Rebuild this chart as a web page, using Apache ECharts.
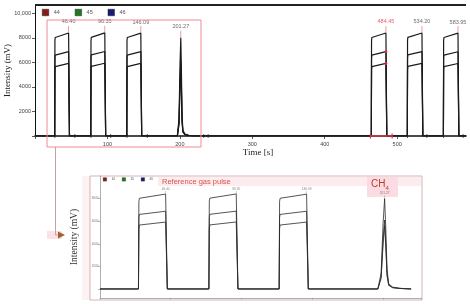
<!DOCTYPE html>
<html><head><meta charset="utf-8">
<script src="https://cdn.jsdelivr.net/npm/echarts@6/dist/echarts.min.js"></script>
<style>html,body{margin:0;padding:0;background:#fff}#c{width:470px;height:304px}</style>
</head><body><div id="c"></div>
<script>
// ---- data ----
const massNames = ['44', '45', '46'];
const legendColors = ['#8b1a1a', '#1f7a1f', '#1a1a7a'];
const pulseRise = [27.5, 77.3, 127.0, 464.6, 514.3, 564.1];
const pulseEnd = [46.40, 96.35, 146.09, 484.45, 534.20, 583.95];
const pulseLabels = ['46.40', '96.35', '146.09', '484.45', '534.20', '583.95'];
const level44Start = [8150, 8160, 8150, 8150, 8160, 8150];
const level44End = [8400, 8410, 8390, 8400, 8400, 8390];
const level45Start = [6720, 6730, 6720, 6720, 6730, 6720];
const level45End = [6880, 6890, 6880, 6880, 6880, 6870];
const level46Start = [5780, 5790, 5780, 5780, 5790, 5780];
const level46End = [5920, 5930, 5920, 5920, 5920, 5910];
const ch4Label = '201.27';
const ch4PeakTime = 201.27;
const ch4Times = [196.5, 198.8, 200.2, 201.27, 202.1, 203.0, 204.2, 207, 212, 220];
const ch4Mass44 = [0, 1400, 5800, 8000, 5400, 1700, 450, 160, 60, 0];
const ch4Mass45 = [0, 1050, 4400, 6100, 4100, 1300, 350, 120, 50, 0];
const ch4Mass46 = [0, 950, 4000, 5600, 3700, 1150, 310, 110, 40, 0];
const baseTicks = [27.5, 55, 77.3, 104.5, 127, 155, 233, 239, 514.3, 541, 564.1, 591];
const redRange = [463, 493];
const redPulseIndex = 3;
const mainYLabels = { 2000: '2000', 4000: '4000', 6000: '6000', 8000: '8000', 10000: '10,000' };
const insetYTicks = [0, 2000, 4000, 6000, 8000];

// ---- build traces from the read breakpoints ----
function trace(startL, endL, ch4) {
  const pts = [[0, 0]];
  let ch4Done = false;
  for (let i = 0; i < pulseRise.length; i++) {
    if (!ch4Done && pulseRise[i] > ch4Times[0]) {
      ch4Times.forEach((t, k) => pts.push([t, ch4[k]]));
      ch4Done = true;
    }
    const r = pulseRise[i], e = pulseEnd[i];
    pts.push([r - 0.3, 0], [r, startL[i] - 400], [r + 0.4, startL[i] - 120], [r + 1.4, startL[i]],
             [e, endL[i]], [e + 1.2, 0]);
  }
  pts.push([595, 0]);
  return pts;
}
const traces = [
  trace(level44Start, level44End, ch4Mass44),
  trace(level45Start, level45End, ch4Mass45),
  trace(level46Start, level46End, ch4Mass46)
];
const insetMax = 227;

const series = [];
traces.forEach((d, k) => {
  series.push({ name: massNames[k], type: 'line', xAxisIndex: 0, yAxisIndex: 0, data: d,
    showSymbol: false, lineStyle: { color: '#1a1a1a', width: 1.2 }, itemStyle: { color: '#1a1a1a' }, z: 3 });
  series.push({ name: massNames[k], type: 'line', xAxisIndex: 1, yAxisIndex: 1,
    data: d.filter(p => p[0] <= insetMax + 2),
    showSymbol: false, lineStyle: { color: '#2a2a2a', width: 0.8 }, itemStyle: { color: '#2a2a2a' }, z: 3 });
});

// peak labels (main)
const mainLabelData = pulseEnd.map((t, i) => ({
  value: [t, level44End[i], pulseLabels[i]],
  label: { color: i === redPulseIndex ? '#e8304a' : '#444' }
}));
mainLabelData.push({ value: [ch4PeakTime, ch4Mass44[3], ch4Label], label: { color: '#444' } });
series.push({ type: 'scatter', xAxisIndex: 0, yAxisIndex: 0, data: mainLabelData,
  symbol: 'rect', symbolSize: [0.8, 7], symbolOffset: [0, -3.5], itemStyle: { color: '#e8607a' }, z: 4,
  label: { show: true, position: 'top', distance: 1, fontSize: 5.5, fontFamily: 'Liberation Sans',
    formatter: p => p.value[2] } });
// red markers on highlighted pulse
series.push({ type: 'scatter', xAxisIndex: 0, yAxisIndex: 0, symbolSize: 3, z: 5,
  itemStyle: { color: '#e8304a' },
  data: [[pulseEnd[redPulseIndex], level45End[redPulseIndex]], [pulseEnd[redPulseIndex], level46End[redPulseIndex]]] });
// red range on baseline
series.push({ type: 'line', xAxisIndex: 0, yAxisIndex: 0, data: redRange.map(t => [t, 0]), z: 5,
  symbol: 'rect', symbolSize: [1.2, 5], lineStyle: { color: '#e8304a', width: 1.5 }, itemStyle: { color: '#e8304a' } });
// baseline tick markers
series.push({ type: 'scatter', xAxisIndex: 0, yAxisIndex: 0, data: baseTicks.map(t => [t, 0]), z: 4,
  symbol: 'rect', symbolSize: [0.9, 4], itemStyle: { color: '#222' } });

// inset labels
const insetLabelData = pulseEnd.map((t, i) => ({ value: [t, level44End[i], pulseLabels[i]] }))
  .filter(d => d.value[0] <= insetMax);
insetLabelData.push({ value: [ch4PeakTime, ch4Mass44[3], ch4Label] });
series.push({ type: 'scatter', xAxisIndex: 1, yAxisIndex: 1, data: insetLabelData,
  symbol: 'rect', symbolSize: [0.5, 3], symbolOffset: [0, -1.5], itemStyle: { color: '#888' }, z: 4,
  label: { show: true, position: 'top', distance: 0.5, fontSize: 3.2, color: '#666',
    formatter: p => p.value[2] } });

const chart = echarts.init(document.getElementById('c'), null, { renderer: 'canvas' });
chart.setOption({
  animation: false,
  backgroundColor: '#fff',
  textStyle: { fontFamily: 'Liberation Sans' },
  legend: [
    { data: massNames.map((n, i) => ({ name: n, itemStyle: { color: legendColors[i], borderColor: '#222', borderWidth: 0.5 } })),
      left: 42, top: 9, icon: 'rect', itemWidth: 6.5, itemHeight: 6.5, itemGap: 15, padding: 0,
      selectedMode: false, textStyle: { fontSize: 5.5, color: '#555' } },
    { data: massNames.map((n, i) => ({ name: n, itemStyle: { color: legendColors[i], borderColor: '#222', borderWidth: 0.3 } })),
      left: 103, top: 177.5, icon: 'rect', itemWidth: 3.5, itemHeight: 3.5, itemGap: 7, padding: 0,
      selectedMode: false, textStyle: { fontSize: 3, color: '#555' } }
  ],
  grid: [
    { left: 35, right: 4, top: 5, bottom: 168, outerBoundsMode: 'none', containLabel: false },
    { left: 100, right: 49, top: 176, bottom: 6, outerBoundsMode: 'none', containLabel: false }
  ],
  xAxis: [
    { type: 'value', gridIndex: 0, min: 0, max: 595, interval: 100,
      axisLine: { lineStyle: { color: '#111', width: 1.6 } },
      axisTick: { length: 3, lineStyle: { color: '#333', width: 0.8 } },
      axisLabel: { fontSize: 5.5, color: '#444', margin: 5.5, showMaxLabel: false,
        formatter: v => (v > 0 && v % 100 === 0) ? String(v) : '' },
      splitLine: { show: false } },
    { type: 'value', gridIndex: 1, min: 0, max: insetMax, interval: 50,
      axisLine: { onZero: false, lineStyle: { color: '#999', width: 0.8 } },
      axisTick: { length: 1.5, lineStyle: { color: '#888', width: 0.6 } },
      axisLabel: { show: false }, splitLine: { show: false } }
  ],
  yAxis: [
    { type: 'value', gridIndex: 0, min: 0, max: 10680, interval: 2000,
      name: 'Intensity (mV)', nameLocation: 'middle', nameGap: 23, nameMoveOverlap: false,
      nameTextStyle: { fontFamily: 'Liberation Serif', fontSize: 9, color: '#222' },
      axisLine: { show: true, lineStyle: { color: '#111', width: 1 } },
      axisTick: { show: true, length: 3, lineStyle: { color: '#333', width: 0.8 } },
      axisLabel: { fontSize: 5.5, color: '#444', margin: 4, showMaxLabel: false,
        formatter: v => mainYLabels[v] || '' },
      splitLine: { show: false } },
    { type: 'value', gridIndex: 1, min: -800, max: 10000,
      name: 'Intensity (mV)', nameLocation: 'middle', nameGap: 21, nameMoveOverlap: false,
      nameTextStyle: { fontFamily: 'Liberation Serif', fontSize: 9.5, color: '#333' },
      axisLine: { show: true, lineStyle: { color: '#999', width: 0.8 } },
      axisTick: { show: true, length: 2, customValues: insetYTicks, lineStyle: { color: '#888', width: 0.6 } },
      axisLabel: { fontSize: 3, color: '#777', margin: 1.5, customValues: insetYTicks,
        formatter: v => v === 0 ? '' : String(v) },
      splitLine: { show: false } }
  ],
  graphic: [
    { type: 'rect', shape: { x: 82, y: 176, width: 8, height: 124 }, style: { fill: '#fbf2f4' }, z: -10 },
    { type: 'rect', shape: { x: 90, y: 176, width: 332, height: 124 }, style: { fill: 'none', stroke: '#d8b2b2', lineWidth: 1 }, z: -5 },
    { type: 'rect', shape: { x: 158, y: 177, width: 263, height: 9 }, style: { fill: '#fdecef' }, z: -6 },
    { type: 'rect', shape: { x: 367, y: 177, width: 31, height: 20 }, style: { fill: '#fbdce3' }, z: -5 },
    { type: 'text', x: 162, y: 182, style: { text: 'Reference gas pulse', fill: '#d9534f', fontSize: 7.5,
      fontFamily: 'Liberation Sans', verticalAlign: 'middle' }, z: 10 },
    { type: 'text', x: 371, y: 184, style: { text: 'CH{s|4}', fill: '#c0392b', fontSize: 10,
      fontFamily: 'Liberation Sans', verticalAlign: 'middle',
      rich: { s: { fontSize: 6, fill: '#c0392b', padding: [9, 0, 0, 0] } } }, z: 10 },
    { type: 'line', shape: { x1: 35, y1: 5, x2: 466, y2: 5 }, style: { stroke: '#222', lineWidth: 2 }, z: 10 },
    { type: 'rect', shape: { x: 47, y: 20, width: 154, height: 127 }, style: { fill: 'none', stroke: '#f08a9a', lineWidth: 1 }, z: 10 },
    { type: 'line', shape: { x1: 55.5, y1: 147, x2: 55.5, y2: 235 }, style: { stroke: '#c9a0a0', lineWidth: 1 }, z: 10 },
    { type: 'rect', shape: { x: 47, y: 231, width: 15, height: 8 }, style: { fill: '#fde0e6' }, z: 9 },
    { type: 'line', shape: { x1: 55.5, y1: 235, x2: 60, y2: 235 }, style: { stroke: '#c9a0a0', lineWidth: 1 }, z: 10 },
    { type: 'polygon', shape: { points: [[58, 231.5], [65, 235], [58, 238.5]] }, style: { fill: '#a0622d' }, z: 10 },
    { type: 'text', x: 258, y: 153, style: { text: 'Time [s]', fill: '#222', fontSize: 9,
      fontFamily: 'Liberation Serif', align: 'center', verticalAlign: 'middle' }, z: 10 }
  ],
  series: series
});
</script>
</body></html>
